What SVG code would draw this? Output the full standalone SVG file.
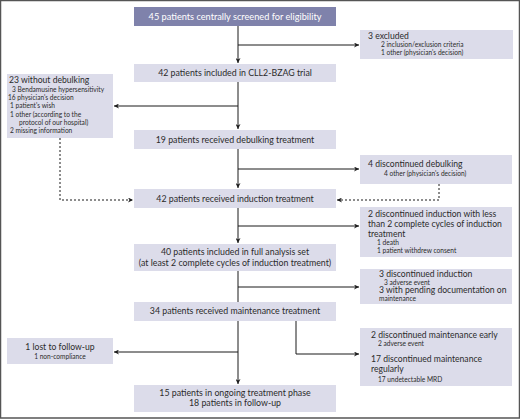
<svg xmlns="http://www.w3.org/2000/svg" width="520" height="419" viewBox="0 0 520 419">
<defs>
<marker id="ah" viewBox="0 0 10 10" refX="10" refY="5" markerWidth="5" markerHeight="5" markerUnits="userSpaceOnUse" orient="auto">
<path d="M0,0 L10,5 L0,10 L3,5 Z" fill="#1a1a1a"/>
</marker>
</defs>
<style>
text{font-family:Lato,"Noto Sans","Liberation Sans",sans-serif;fill:#2b2b2b}
.main{fill:#dcdcea}
.top{fill:#7f82ab}
.side{fill:#dcdcea}
.t{font-size:8.6px}
.m{font-size:8.8px}
.c{text-anchor:middle}
.s{font-size:6.6px}
.w{fill:#ffffff;font-size:9.2px}
.ln{stroke:#1a1a1a;stroke-width:1;fill:none}
.ar{marker-end:url(#ah)}
.dt{stroke-dasharray:2,2}
</style>
<rect x="0.5" y="0.5" width="519" height="417.5" fill="#ffffff" stroke="#555555" stroke-width="1.5"/>

<g id="connectors">
<path class="ln ar" d="M238,26 V63"/>
<path class="ln ar" d="M238,45 H359"/>
<path class="ln ar" d="M238,82 V129"/>
<path class="ln ar" d="M238,106 H114"/>
<path class="ln ar" d="M238,149 V188"/>
<path class="ln ar" d="M238,169 H359"/>
<path class="ln ar dt" d="M439,184 V200 H337"/>
<path class="ln ar dt" d="M60,138 V200 H133"/>
<path class="ln ar" d="M238,208 V243"/>
<path class="ln ar" d="M238,226 H359"/>
<path class="ln" d="M238,271 V302"/>
<path class="ln ar" d="M238,287 H359"/>
<path class="ln ar" d="M238,321 V384"/>
<path class="ln ar" d="M238,352 H114"/>
<path class="ln ar" d="M296,321 V354 H359"/>
</g>

<g id="n1">
<rect class="top" x="134" y="7" width="202" height="19"/>
<text class="c w" x="235" y="19.5">45 patients centrally screened for eligibility</text>
</g>
<g id="n2">
<rect class="side" x="360" y="30" width="153" height="29"/>
<text class="t" x="368" y="39">3 excluded</text>
<text class="s" x="381" y="47">2 inclusion/exclusion criteria</text>
<text class="s" x="381" y="55">1 other (physician's decision)</text>
</g>
<g id="n3">
<rect class="main" x="134" y="64" width="202" height="18"/>
<text class="m c" x="235" y="76">42 patients included in CLL2-BZAG trial</text>
</g>
<g id="n4">
<rect class="side" x="7" y="74" width="106" height="64"/>
<text class="t" x="9" y="83">23 without debulking</text>
<text class="s" x="12" y="92">3 Bendamusine hypersensitivity</text>
<text class="s" x="8" y="100">16 physician's decision</text>
<text class="s" x="10" y="108">1 patient's wish</text>
<text class="s" x="10" y="116.5">1 other (according to the</text>
<text class="s" x="19" y="125">protocol of our hospital)</text>
<text class="s" x="10" y="133">2 missing information</text>
</g>
<g id="n5">
<rect class="main" x="134" y="130" width="202" height="19"/>
<text class="m c" x="235" y="142.5">19 patients received debulking treatment</text>
</g>
<g id="n6">
<rect class="side" x="360" y="155" width="152" height="29"/>
<text class="t" x="368" y="167">4 discontinued debulking</text>
<text class="s" x="384" y="176">4 other (physician's decision)</text>
</g>
<g id="n7">
<rect class="main" x="134" y="189" width="202" height="19"/>
<text class="m c" x="235" y="202">42 patients received induction treatment</text>
</g>
<g id="n8">
<rect class="side" x="360" y="207" width="152" height="50"/>
<text class="t" x="368" y="217">2 discontinued induction with less</text>
<text class="t" x="368" y="227">than 2 complete cycles of induction</text>
<text class="t" x="368" y="236.5">treatment</text>
<text class="s" x="377" y="244.5">1 death</text>
<text class="s" x="377" y="252.5">1 patient withdrew consent</text>
</g>
<g id="n9">
<rect class="main" x="134" y="244" width="202" height="27"/>
<text class="m c" x="235" y="255">40 patients included in full analysis set</text>
<text class="m c" x="235" y="265.5">(at least 2 complete cycles of induction treatment)</text>
</g>
<g id="n10">
<rect class="side" x="360" y="269" width="152" height="35"/>
<text class="t" x="379" y="277">3 discontinued induction</text>
<text class="s" x="384" y="284.5">3 adverse event</text>
<text class="t" x="379" y="293">3 with pending documentation on</text>
<text class="s" x="379" y="301">maintenance</text>
</g>
<g id="n11">
<rect class="main" x="134" y="302" width="202" height="19"/>
<text class="m c" x="235" y="314">34 patients received maintenance treatment</text>
</g>
<g id="n12">
<rect class="side" x="7" y="338" width="106" height="26"/>
<text class="t c" x="60" y="349.5">1 lost to follow-up</text>
<text class="s c" x="60" y="358.5">1 non-compliance</text>
</g>
<g id="n13">
<rect class="side" x="360" y="328" width="152" height="58"/>
<text class="t" x="371" y="338">2 discontinued maintenance early</text>
<text class="s" x="378" y="346">2 adverse event</text>
<text class="t" x="371" y="362">17 discontinued maintenance</text>
<text class="t" x="371" y="372">regularly</text>
<text class="s" x="378" y="382">17 undetectable MRD</text>
</g>
<g id="n14">
<rect class="main" x="134" y="385" width="202" height="27"/>
<text class="m c" x="235" y="396">15 patients in ongoing treatment phase</text>
<text class="m c" x="235" y="406">18 patients in follow-up</text>
</g>
</svg>
